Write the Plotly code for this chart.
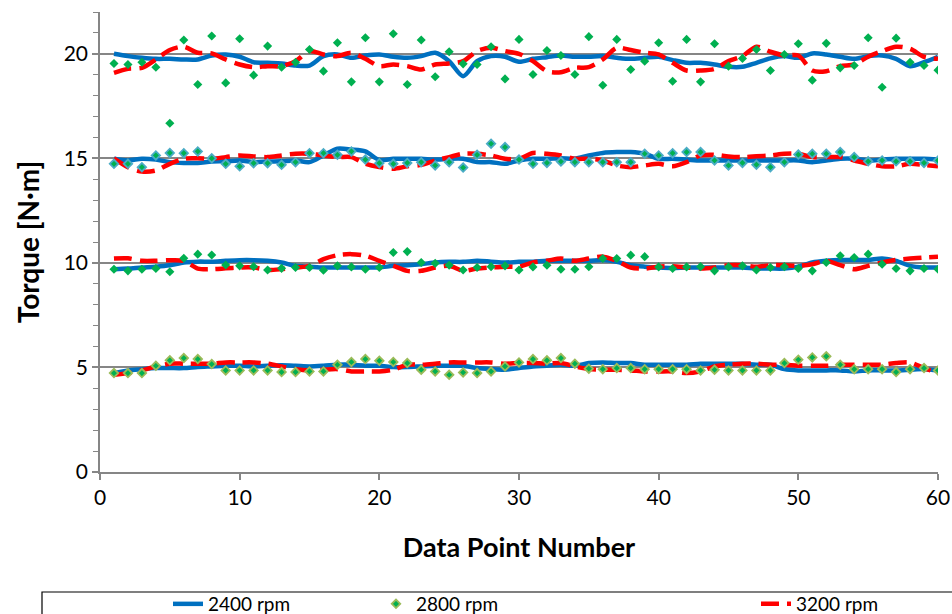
import plotly.graph_objects as go

data_point = list(range(1, 61))

# ~20 N·m
t20_2400 = [20.0, 19.89, 19.81, 19.76, 19.76, 19.73, 19.73, 19.92, 19.97, 19.86,
            19.60, 19.57, 19.54, 19.44, 19.44, 19.89, 19.97, 19.81, 19.92, 19.97,
            19.86, 19.81, 19.89, 20.05, 19.65, 18.93, 19.65, 19.89, 19.86, 19.62,
            19.76, 19.84, 19.92, 19.86, 19.86, 19.89, 19.81, 19.76, 19.81, 19.86,
            19.70, 19.57, 19.57, 19.49, 19.38, 19.38, 19.57, 19.78, 19.89, 19.81,
            20.02, 19.97, 19.86, 19.76, 19.89, 19.92, 19.76, 19.41, 19.60, 19.86]
t20_2800 = [19.54, 19.49, 19.60, 19.36, 16.68, 20.66, 18.53, 20.85, 18.61, 20.72,
            18.98, 20.37, 19.36, 19.60, 20.21, 19.17, 20.53, 18.66, 20.77, 18.66,
            20.96, 18.53, 20.66, 18.90, 20.10, 19.52, 19.49, 20.34, 18.80, 20.69,
            19.01, 20.16, 19.92, 19.01, 20.82, 18.50, 20.69, 19.25, 19.65, 20.53,
            18.69, 20.69, 18.66, 20.48, 19.41, 19.78, 20.21, 19.20, 19.97, 20.48,
            18.74, 20.50, 19.33, 19.44, 20.77, 18.40, 20.75, 19.60, 19.44, 19.22]
t20_3200 = [19.09, 19.28, 19.33, 19.73, 20.18, 20.34, 20.05, 20.02, 19.73, 19.49,
            19.36, 19.41, 19.41, 19.65, 20.13, 19.97, 19.89, 20.05, 19.76, 19.41,
            19.49, 19.41, 19.25, 19.49, 19.54, 19.65, 20.13, 20.29, 20.13, 20.00,
            19.65, 19.17, 19.12, 19.33, 19.36, 19.73, 20.29, 20.18, 20.05, 19.97,
            19.57, 19.20, 19.20, 19.28, 19.65, 19.89, 20.34, 20.10, 19.92, 19.92,
            19.20, 19.17, 19.41, 19.49, 19.86, 20.13, 20.34, 20.24, 19.86, 19.76]

# ~15 N·m
t15_2400 = [14.98, 14.90, 14.98, 14.94, 14.82, 14.78, 14.78, 14.85, 14.86, 14.90,
            14.82, 14.85, 14.86, 14.90, 14.82, 15.14, 15.46, 15.42, 15.33, 14.92,
            14.98, 14.98, 14.98, 14.94, 14.98, 14.98, 14.82, 14.82, 14.74, 14.90,
            14.98, 14.98, 15.01, 14.98, 15.14, 15.26, 15.30, 15.30, 15.22, 14.98,
            14.98, 14.94, 14.90, 14.90, 14.90, 14.90, 14.90, 14.90, 14.90, 14.90,
            14.82, 14.90, 14.98, 14.98, 14.90, 14.94, 14.98, 14.98, 14.98, 14.94]
t15_2800 = [14.74, 14.74, 14.58, 15.14, 15.26, 15.25, 15.33, 15.00, 14.74, 14.62,
            14.77, 14.77, 14.69, 14.82, 15.25, 15.25, 15.17, 15.33, 14.94, 14.77,
            14.74, 14.78, 14.82, 14.66, 14.82, 14.56, 15.17, 15.70, 15.54, 14.94,
            14.74, 14.78, 14.85, 14.82, 14.82, 14.82, 14.82, 14.82, 15.22, 15.14,
            15.25, 15.30, 15.30, 14.90, 14.66, 14.78, 14.70, 14.58, 14.82, 15.18,
            15.22, 15.22, 15.30, 15.06, 14.86, 14.90, 14.86, 14.86, 14.78, 14.90]
t15_3200 = [15.00, 14.58, 14.37, 14.42, 14.74, 14.98, 15.00, 14.98, 15.06, 15.14,
            15.09, 15.06, 15.14, 15.22, 15.22, 15.14, 15.06, 15.06, 14.74, 14.58,
            14.50, 14.62, 14.69, 14.90, 15.06, 15.22, 15.22, 15.14, 14.98, 14.98,
            15.26, 15.22, 15.14, 14.98, 14.98, 14.90, 14.66, 14.58, 14.66, 14.74,
            14.62, 14.82, 15.14, 15.17, 15.09, 15.06, 15.10, 15.14, 15.22, 15.22,
            15.06, 15.06, 15.06, 14.90, 14.74, 14.62, 14.62, 14.74, 14.69, 14.62]

# ~10 N·m
t10_2400 = [9.70, 9.73, 9.78, 9.82, 9.89, 10.02, 10.06, 10.06, 10.10, 10.13,
            10.13, 10.10, 10.02, 9.86, 9.82, 9.78, 9.78, 9.78, 9.78, 9.78,
            9.86, 9.89, 9.94, 10.02, 10.05, 10.05, 10.10, 10.06, 10.02, 10.05,
            10.06, 10.10, 10.10, 10.10, 10.10, 10.14, 10.05, 9.89, 9.82, 9.78,
            9.76, 9.78, 9.78, 9.78, 9.78, 9.78, 9.73, 9.73, 9.73, 9.82,
            10.02, 10.10, 10.14, 10.14, 10.14, 10.21, 10.10, 9.86, 9.78, 9.78]
t10_2800 = [9.70, 9.62, 9.70, 9.73, 9.58, 10.22, 10.42, 10.38, 9.90, 9.86,
            9.82, 9.66, 9.74, 9.78, 9.78, 9.65, 9.86, 9.81, 9.70, 9.78,
            10.50, 10.54, 10.02, 9.98, 9.89, 9.66, 9.78, 9.82, 9.86, 9.66,
            9.81, 9.89, 9.70, 9.70, 9.82, 10.21, 10.21, 10.37, 10.30, 9.81,
            9.73, 9.81, 9.82, 9.62, 9.81, 9.86, 9.66, 9.78, 9.82, 9.73,
            9.62, 10.02, 10.34, 10.26, 10.42, 9.94, 9.73, 9.62, 9.73, 9.70]
t10_3200 = [10.21, 10.22, 10.10, 10.10, 10.13, 10.10, 9.73, 9.70, 9.74, 9.78,
            9.78, 9.66, 9.70, 9.78, 9.86, 10.18, 10.37, 10.42, 10.34, 10.10,
            9.86, 9.62, 9.62, 9.78, 9.86, 9.62, 9.73, 9.78, 9.82, 9.82,
            10.02, 10.10, 10.21, 10.10, 10.21, 10.30, 10.10, 9.78, 9.73, 9.82,
            9.84, 9.78, 9.73, 9.78, 9.89, 9.89, 9.82, 9.89, 9.89, 9.86,
            9.94, 10.10, 9.89, 9.70, 9.86, 10.02, 10.14, 10.21, 10.26, 10.30]

# ~5 N·m
t5_2400 = [4.73, 4.86, 4.92, 4.97, 4.97, 4.97, 5.02, 5.05, 5.08, 5.08,
           5.05, 5.08, 5.10, 5.08, 5.05, 5.08, 5.13, 5.13, 5.08, 5.08,
           5.02, 5.02, 5.05, 5.08, 5.08, 5.08, 4.97, 4.92, 4.89, 4.97,
           5.05, 5.08, 5.13, 5.08, 5.21, 5.24, 5.21, 5.21, 5.13, 5.13,
           5.13, 5.13, 5.18, 5.18, 5.18, 5.18, 5.13, 5.13, 4.92, 4.86,
           4.86, 4.86, 4.86, 4.81, 4.86, 4.86, 4.86, 4.89, 4.92, 4.86]
t5_2800 = [4.73, 4.73, 4.73, 5.08, 5.34, 5.45, 5.40, 5.16, 4.86, 4.86,
           4.86, 4.86, 4.78, 4.78, 4.81, 4.81, 5.13, 5.26, 5.40, 5.32,
           5.26, 5.21, 4.89, 4.81, 4.65, 4.76, 4.73, 4.81, 5.05, 5.24,
           5.40, 5.34, 5.45, 5.18, 4.94, 4.92, 4.97, 4.97, 4.92, 4.92,
           4.92, 4.92, 4.86, 4.89, 4.86, 4.86, 4.86, 4.86, 5.21, 5.37,
           5.48, 5.53, 5.13, 4.92, 4.92, 4.92, 4.78, 4.92, 4.97, 4.86]
t5_3200 = [4.65, 4.73, 4.86, 5.05, 5.18, 5.18, 5.18, 5.18, 5.24, 5.24,
           5.24, 5.18, 5.05, 4.92, 4.86, 4.89, 4.92, 4.81, 4.81, 4.81,
           4.89, 5.13, 5.13, 5.18, 5.24, 5.24, 5.24, 5.24, 5.18, 5.21,
           5.21, 5.18, 5.21, 5.05, 4.92, 4.89, 4.89, 4.86, 4.81, 4.81,
           4.81, 4.73, 4.81, 5.05, 5.13, 5.18, 5.18, 5.13, 5.13, 5.08,
           5.08, 5.08, 5.13, 5.13, 5.13, 5.13, 5.21, 5.24, 4.97, 4.73]

series_names = ["2400 rpm", "2800 rpm", "3200 rpm"]
y_ticks = [0, 5, 10, 15, 20]
x_ticks = [0, 10, 20, 30, 40, 50, 60]

BLUE = "#0070C0"
RED = "#FF0000"
GREEN = "#00B050"
GRAY = "#868686"
FONT = "Lato"

W, H = 952, 614
ML, MR, MT, MB = 100, 14, 12, 142
PW, PH = W - ML - MR, H - MT - MB


def px_to_paper_x(px):
    return (px - ML) / PW


def px_to_paper_y(py):
    return (H - MB - py) / PH


fig = go.Figure()

blue_sets = [t5_2400, t10_2400, t15_2400, t20_2400]
red_sets = [t5_3200, t10_3200, t15_3200, t20_3200]
green_sets = [t5_2800, t10_2800, t15_2800, t20_2800]
green_borders = ["#9BBB59", GREEN, "#4BACC6", GREEN]

for i, ys in enumerate(blue_sets):
    fig.add_trace(go.Scatter(
        x=data_point, y=ys, mode="lines", name=series_names[0],
        line=dict(color=BLUE, width=4.5, shape="spline", smoothing=0.8),
        showlegend=(i == 0), legend="legend", legendgroup="a"))

for i, ys in enumerate(red_sets):
    fig.add_trace(go.Scatter(
        x=data_point, y=ys, mode="lines", name=series_names[2],
        line=dict(color=RED, width=4.5, dash="18px,8px", shape="spline", smoothing=0.8),
        showlegend=(i == 0), legend="legend3", legendgroup="c"))

for i, ys in enumerate(green_sets):
    bordered = green_borders[i] != GREEN
    fig.add_trace(go.Scatter(
        x=data_point, y=ys, mode="markers", name=series_names[1],
        marker=dict(symbol="diamond", color=GREEN, size=7 if not bordered else 6.5,
                    line=dict(color=green_borders[i], width=1.8 if bordered else 0)),
        showlegend=(i == 0), legend="legend2", legendgroup="b"))

leg_y = px_to_paper_y(604)
legend_common = dict(orientation="h", yanchor="middle", y=leg_y, xanchor="left",
                     bgcolor="rgba(0,0,0,0)", borderwidth=0,
                     font=dict(family=FONT, size=19, color="#000000"))

fig.update_layout(
    width=W, height=H,
    margin=dict(l=ML, r=MR, t=MT, b=MB, autoexpand=False),
    paper_bgcolor="white", plot_bgcolor="white",
    font=dict(family=FONT, size=19, color="#000000"),
    legend=dict(x=px_to_paper_x(168), **legend_common),
    legend2=dict(x=px_to_paper_x(376), **legend_common),
    legend3=dict(x=px_to_paper_x(756), **legend_common),
    xaxis=dict(
        range=[0, 60], tickvals=x_ticks, ticks="outside", ticklen=6, tickwidth=1.5,
        tickcolor=GRAY, showline=True, linecolor=GRAY, linewidth=1.5,
        showgrid=False, zeroline=False,
        tickfont=dict(family=FONT, size=21),
        title=dict(text="Data Point Number", standoff=30,
                   font=dict(family=FONT, size=27, weight="bold")),
    ),
    yaxis=dict(
        range=[0, 22], tickvals=y_ticks, ticks="outside", ticklen=6, tickwidth=1.5,
        tickcolor=GRAY, showline=True, linecolor=GRAY, linewidth=1.5,
        showgrid=True, gridcolor=GRAY, gridwidth=1.5, zeroline=False,
        minor=dict(dtick=1, ticks="outside", ticklen=5, tickcolor=GRAY, tickwidth=1.2,
                   showgrid=False),
        tickfont=dict(family=FONT, size=21),
        title=dict(text="Torque [N·m]", standoff=16,
                   font=dict(family=FONT, size=28, weight="bold")),
    ),
    shapes=[dict(type="rect", xref="paper", yref="paper",
                 x0=px_to_paper_x(42), x1=px_to_paper_x(975),
                 y0=px_to_paper_y(640), y1=px_to_paper_y(592),
                 line=dict(color="#000000", width=1.2), fillcolor="rgba(0,0,0,0)",
                 layer="above")],
)

fig.write_html("out.html")
